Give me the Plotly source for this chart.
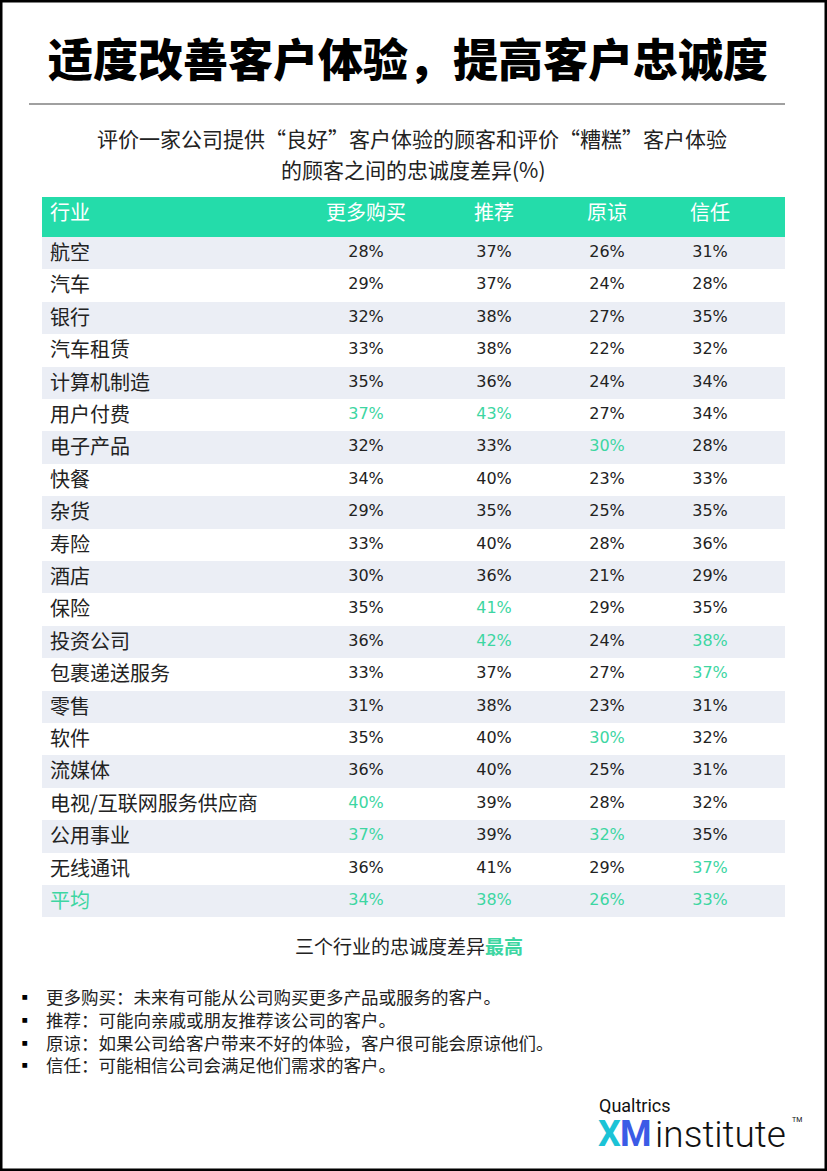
import plotly.graph_objects as go

W, H = 827, 1171

industries = ['航空', '汽车', '银行', '汽车租赁', '计算机制造', '用户付费', '电子产品', '快餐',
              '杂货', '寿险', '酒店', '保险', '投资公司', '包裹递送服务', '零售', '软件',
              '流媒体', '电视/互联网服务供应商', '公用事业', '无线通讯', '平均']
buy_more = [28, 29, 32, 33, 35, 37, 32, 34, 29, 33, 30, 35, 36, 33, 31, 35, 36, 40, 37, 36, 34]
recommend = [37, 37, 38, 38, 36, 43, 33, 40, 35, 40, 36, 41, 42, 37, 38, 40, 40, 39, 39, 41, 38]
forgive = [26, 24, 27, 22, 24, 27, 30, 23, 25, 28, 21, 29, 24, 27, 23, 30, 25, 28, 32, 29, 26]
trust = [31, 28, 35, 32, 34, 34, 28, 33, 35, 36, 29, 35, 38, 37, 31, 32, 31, 32, 35, 37, 33]
headers = ['行业', '更多购买', '推荐', '原谅', '信任', '']

# top-3 industries per column (highlighted in green)
top_buy = ['用户付费', '电视/互联网服务供应商', '公用事业']
top_rec = ['用户付费', '保险', '投资公司']
top_forgive = ['电子产品', '软件', '公用事业']
top_trust = ['投资公司', '包裹递送服务', '无线通讯']

notes = ['更多购买：未来有可能从公司购买更多产品或服务的客户。',
         '推荐：可能向亲戚或朋友推荐该公司的客户。',
         '原谅：如果公司给客户带来不好的体验，客户很可能会原谅他们。',
         '信任：可能相信公司会满足他们需求的客户。']

GREEN = '#24DCAA'
HI = '#3DD6A2'
TINT = '#EBEEF5'
FONT = 'Noto Sans CJK SC'
NUMFONT = 'DejaVu Sans'


def px(x):
    return x / W


def py(y):
    return 1 - y / H


def col_colors(top):
    return [HI if (n in top or n == '平均') else '#222222' for n in industries]


fill = [TINT if i % 2 == 0 else 'white' for i in range(len(industries))]
label_colors = [HI if n == '平均' else '#222222' for n in industries]

fig = go.Figure(go.Table(
    domain=dict(x=[px(42), px(785)], y=[py(924), py(197)]),
    columnwidth=[258, 132, 124, 102, 104, 23],
    header=dict(
        values=headers,
        fill_color=GREEN,
        line=dict(color=GREEN, width=0),
        align=['left', 'center', 'center', 'center', 'center', 'center'],
        font=dict(family=FONT, size=20, color='white'),
        height=40,
    ),
    cells=dict(
        values=[industries,
                [f'{v}%' for v in buy_more],
                [f'{v}%' for v in recommend],
                [f'{v}%' for v in forgive],
                [f'{v}%' for v in trust],
                [''] * len(industries)],
        fill_color=[fill] * 6,
        line=dict(color=[fill] * 6, width=0),
        align=['left', 'center', 'center', 'center', 'center', 'center'],
        font=dict(family=[FONT, NUMFONT, NUMFONT, NUMFONT, NUMFONT, NUMFONT],
                  size=[20, 16, 16, 16, 16, 16],
                  color=[label_colors, col_colors(top_buy), col_colors(top_rec),
                         col_colors(top_forgive), col_colors(top_trust),
                         label_colors]),
        height=32.4,
    ),
))

ann = []
ann.append(dict(text='适度改善客户体验，提高客户忠诚度', x=px(408), y=py(57),
                font=dict(family=FONT, size=45, color='black', weight=900)))
ann.append(dict(text='评价一家公司提供“良好”客户体验的顾客和评价“糟糕”客户体验',
                x=px(412), y=py(138), font=dict(family=FONT, size=21, color='#222222')))
ann.append(dict(text='的顾客之间的忠诚度差异(%)',
                x=px(413), y=py(169), font=dict(family=FONT, size=21, color='#222222')))
ann.append(dict(text=f'三个行业的忠诚度差异<b><span style="color:{HI}">最高</span></b>',
                x=px(409), y=py(945), font=dict(family=FONT, size=19, color='#222222')))
ann.append(dict(text='<br>'.join(['▪'] * len(notes)), x=px(14), y=py(1030), xanchor='left',
                align='left', font=dict(family=FONT, size=17.5, color='black')))
ann.append(dict(text='<br>'.join(notes), x=px(44), y=py(1030), xanchor='left',
                align='left', font=dict(family=FONT, size=17.5, color='#222222')))
ann.append(dict(text='Qualtrics', x=px(597), y=py(1105), xanchor='left',
                font=dict(family='Roboto', size=18, color='#111111')))
ann.append(dict(text='X', x=px(596), y=py(1134), xanchor='left',
                font=dict(family='Roboto', size=36, color='#1CC3D6', weight='bold')))
ann.append(dict(text='M', x=px(618), y=py(1134), xanchor='left',
                font=dict(family='Roboto', size=36, color='#3B5BE6', weight='bold')))
ann.append(dict(text='institute', x=px(653), y=py(1134), xanchor='left',
                font=dict(family='Roboto', size=37, color='#111111', weight=300)))
ann.append(dict(text='TM', x=px(797), y=py(1120),
                font=dict(family='Roboto', size=7, color='#111111')))

for a in ann:
    a.setdefault('xanchor', 'center')
    a.update(xref='paper', yref='paper', yanchor='middle', showarrow=False)

fig.update_layout(
    width=W, height=H,
    margin=dict(l=0, r=0, t=0, b=0),
    paper_bgcolor='white', plot_bgcolor='white',
    annotations=ann,
    shapes=[
        dict(type='line', xref='paper', yref='paper', x0=px(29), x1=px(785),
             y0=py(104), y1=py(104), line=dict(color='#808080', width=1.5)),
        dict(type='rect', xref='paper', yref='paper', x0=0, x1=1, y0=0, y1=1,
             line=dict(color='black', width=5)),
    ],
)

fig.write_html('out.html', config={'displayModeBar': False},
               post_script="document.body.style.margin='0';")
